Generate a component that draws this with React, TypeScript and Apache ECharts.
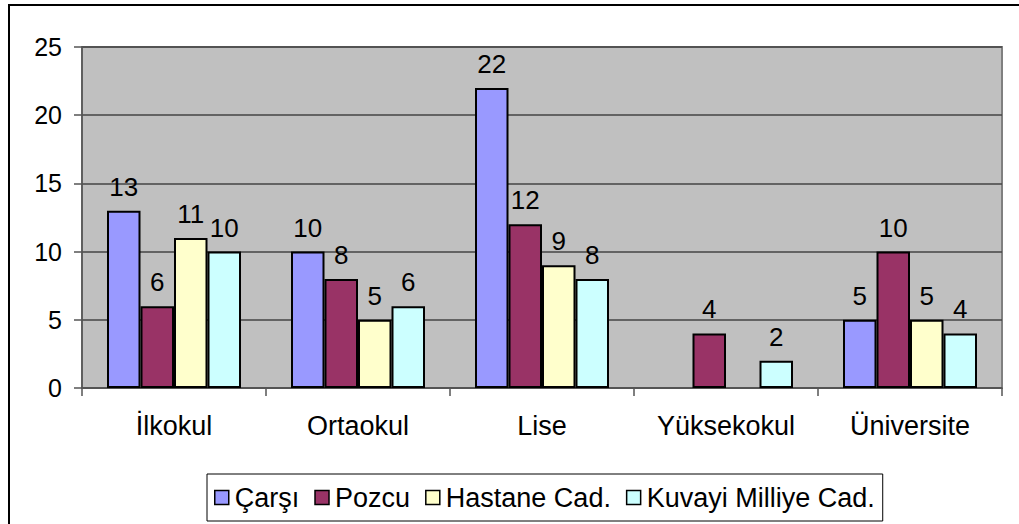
import React, { useEffect, useRef } from "react";
import * as echarts from "echarts";

const categories = ["İlkokul", "Ortaokul", "Lise", "Yüksekokul", "Üniversite"];
const seriesNames = ["Çarşı", "Pozcu", "Hastane Cad.", "Kuvayi Milliye Cad."];
const carsi = [13, 10, 22, null, 5];
const pozcu = [6, 8, 12, 4, 10];
const hastane = [11, 5, 9, null, 5];
const kuvayi = [10, 6, 8, 2, 4];
const colors = ["#9999FF", "#993366", "#FFFFCC", "#CCFFFF"];
const yTicks = [0, 5, 10, 15, 20, 25];

const FONT = "'Liberation Sans', Arial, sans-serif";

export default function App() {
  const ref = useRef<HTMLDivElement>(null);
  useEffect(() => {
    const chart = echarts.init(ref.current!, null, { renderer: "svg" });
    const data = [carsi, pozcu, hastane, kuvayi];
    chart.setOption({
      animation: false,
      backgroundColor: "#FFFFFF",
      textStyle: { fontFamily: FONT, color: "#000" },
      graphic: [
        {
          type: "rect",
          shape: { x: 9, y: 5, width: 1100, height: 600 },
          style: { fill: "none", stroke: "#000", lineWidth: 2 },
          silent: true,
        },
      ],
      grid: {
        left: 82,
        right: 17,
        top: 47,
        bottom: 136,
        show: true,
        backgroundColor: "#C0C0C0",
        borderColor: "#808080",
        borderWidth: 2,
      },
      legend: {
        left: 207,
        top: 474,
        data: seriesNames,
        icon: "rect",
        itemWidth: 14,
        itemHeight: 14,
        itemGap: 15,
        padding: [10, 8, 10, 7],
        borderColor: "#000",
        borderWidth: 1,
        textStyle: { fontFamily: FONT, fontSize: 27, color: "#000", padding: [0, 0, 0, 1] },
        itemStyle: { borderColor: "#000", borderWidth: 1.5 },
      },
      xAxis: {
        type: "category",
        data: categories,
        axisLine: { lineStyle: { color: "#555", width: 1.5 } },
        axisTick: { show: true, length: 8, lineStyle: { color: "#555", width: 1.5 } },
        axisLabel: { fontFamily: FONT, fontSize: 27, color: "#000", margin: 24 },
      },
      yAxis: {
        type: "value",
        min: 0,
        max: 25,
        interval: 5,
        axisLine: { show: true, lineStyle: { color: "#555", width: 1.5 } },
        axisTick: { show: true, length: 8, lineStyle: { color: "#555", width: 1.5 } },
        splitLine: { lineStyle: { color: "#444", width: 1.5 } },
        axisLabel: {
          fontFamily: FONT,
          fontSize: 25,
          color: "#000",
          margin: 20,
          formatter: (v: number) => (yTicks.includes(v) ? String(v) : ""),
        },
      },
      series: seriesNames.map((name, i) => ({
        name,
        type: "bar",
        data: data[i],
        barWidth: 33.5,
        barGap: "0%",
        itemStyle: { color: colors[i], borderColor: "#000", borderWidth: 2 },
        label: {
          show: true,
          position: "top",
          distance: 11,
          fontFamily: FONT,
          fontSize: 26,
          color: "#000",
        },
      })),
    });
    return () => chart.dispose();
  }, []);
  return (
    <div
      ref={ref}
      style={{ position: "fixed", left: 0, top: 0, width: 1019, height: 524 }}
    />
  );
}
